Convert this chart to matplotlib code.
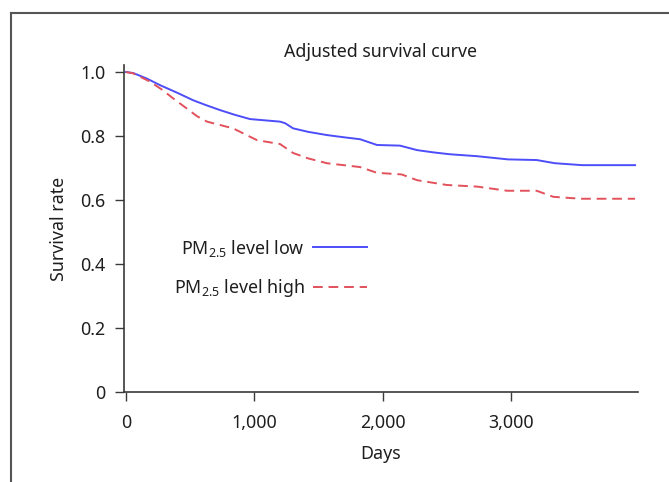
import matplotlib
matplotlib.use('Agg')
import matplotlib.pyplot as plt
from matplotlib.lines import Line2D

# Font setup
plt.rcParams['font.family'] = ['Noto Sans', 'DejaVu Sans']
plt.rcParams['mathtext.fontset'] = 'custom'
plt.rcParams['mathtext.rm'] = 'Noto Sans'
plt.rcParams['mathtext.default'] = 'rm'

# ------------------------------------------------------- Data
days_low = [0, 55, 160, 265, 400, 522, 620, 733, 850, 966, 1200, 1240, 1302, 1420, 1566,
            1700, 1824, 1956, 2135, 2268, 2393, 2525, 2735, 2977, 3200, 3343, 3554, 3967]
surv_low = [1.0, 0.997, 0.980, 0.959, 0.935, 0.912, 0.897, 0.881, 0.866, 0.853, 0.845, 0.840,
            0.824, 0.813, 0.803, 0.796, 0.790, 0.772, 0.770, 0.756, 0.749, 0.743, 0.737,
            0.727, 0.725, 0.715, 0.709, 0.709]

days_high = [0, 55, 187, 280, 366, 460, 553, 631, 834, 1021, 1200, 1302, 1420, 1566, 1824,
             1956, 2148, 2268, 2500, 2735, 2970, 3200, 3330, 3545, 3967]
surv_high = [1.0, 0.996, 0.970, 0.945, 0.918, 0.890, 0.862, 0.845, 0.824, 0.787, 0.775,
             0.747, 0.730, 0.715, 0.703, 0.685, 0.680, 0.662, 0.647, 0.642, 0.629, 0.629,
             0.610, 0.604, 0.604]

x_ticks = [0, 1000, 2000, 3000]
x_tick_labels = ['0', '1,000', '2,000', '3,000']
y_ticks = [0, 0.2, 0.4, 0.6, 0.8, 1.0]
y_tick_labels = ['0', '0.2', '0.4', '0.6', '0.8', '1.0']

# Colors
BLUE = '#4d4dfa'
RED = '#e2515c'
AXIS = '#3a3a3a'
TEXT = '#1e1e1e'
FS = 12.8

# ------------------------------------------------------- Figure
fig = plt.figure(figsize=(6.69, 4.82), dpi=100)
ax = fig.add_axes([124 / 669, 1 - 392 / 482, (638 - 124) / 669, (392 - 65) / 482])

ax.plot(days_low, surv_low, color=BLUE, linewidth=1.4, label='PM$_{2.5}$ level low')
ax.plot(days_high, surv_high, color=RED, linewidth=1.4, linestyle=(0, (5, 3)),
        label='PM$_{2.5}$ level high')

ax.set_xlim(-16, 3990)
ax.set_ylim(0, 1.022)
ax.set_xticks(x_ticks)
ax.set_xticklabels(x_tick_labels)
ax.set_yticks(y_ticks)
ax.set_yticklabels(y_tick_labels)

for side in ['top', 'right']:
    ax.spines[side].set_visible(False)
for side in ['left', 'bottom']:
    ax.spines[side].set_color(AXIS)
    ax.spines[side].set_linewidth(1.2)
ax.tick_params(axis='both', colors=AXIS, labelcolor=TEXT, labelsize=FS,
               length=6.5, width=1.0)
ax.tick_params(axis='x', pad=9)
ax.tick_params(axis='y', pad=7)

ax.set_title('Adjusted survival curve', fontsize=FS, color=TEXT, pad=5.5)
ax.set_xlabel('Days', fontsize=FS, color=TEXT, labelpad=10)
ax.set_ylabel('Survival rate', fontsize=FS, color=TEXT, labelpad=9)

# Legend: text first, line after
ax.legend(loc='upper right', bbox_to_anchor=(0.472, 0.472), frameon=False,
          markerfirst=False, fontsize=FS, handlelength=3.0, handletextpad=0.5,
          labelspacing=1.05, labelcolor=TEXT, borderpad=0, borderaxespad=0)

# Outer frame (clipped at right and bottom)
x0 = 11 / 669
y0 = 1 - 13 / 482
fig.add_artist(Line2D([x0, x0], [-0.1, y0], color='#555555', linewidth=1.5))
fig.add_artist(Line2D([x0, 1.1], [y0, y0], color='#555555', linewidth=1.5))

fig.savefig('out.png', dpi=100)
